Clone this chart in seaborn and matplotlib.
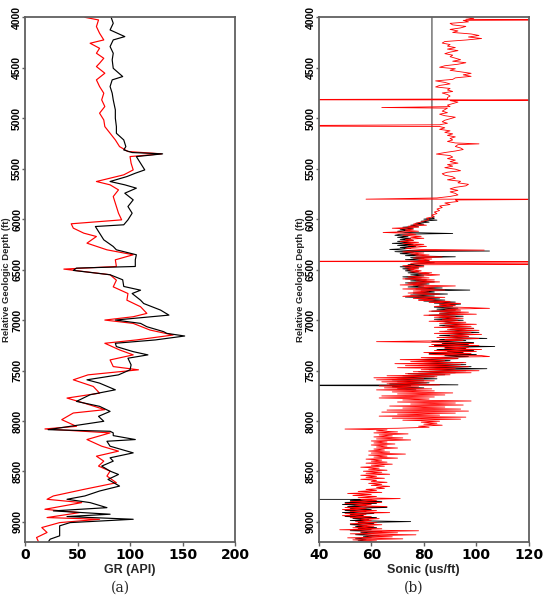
import matplotlib
matplotlib.use('Agg')
import matplotlib.pyplot as plt
import seaborn as sns
import pandas as pd

# GR log (API) vs relative depth (ft)
gr_black_depth = [4000, 4059, 4125, 4191, 4224, 4290, 4356, 4422, 4505, 4587, 4620, 4686, 4752, 4818,
                  4917, 5000, 5083, 5149, 5215, 5281, 5314, 5340, 5353, 5380, 5446, 5512, 5545, 5578,
                  5627, 5660, 5693, 5743, 5809, 5875, 5941, 6007, 6056, 6073, 6139, 6205, 6271, 6304,
                  6353, 6403, 6469, 6485, 6508, 6551, 6601, 6667, 6704, 6737, 6803, 6836, 6901, 6951,
                  7000, 7033, 7066, 7115, 7132, 7158, 7197, 7230, 7263, 7313, 7345, 7378, 7444, 7493,
                  7543, 7592, 7625, 7691, 7740, 7806, 7855, 7905, 7954, 8003, 8053, 8086, 8102, 8118,
                  8145, 8184, 8201, 8250, 8316, 8365, 8398, 8447, 8497, 8530, 8579, 8645, 8694, 8743,
                  8776, 8809, 8859, 8891, 8924, 8947, 8974, 9007, 9039, 9105, 9138, 9171, 9200]
gr_black = [82, 84, 81, 95, 84, 81, 84, 83, 84, 93, 83, 81, 83, 84,
            86, 86, 87, 87, 94, 96, 94, 102, 131, 106, 110, 114, 105, 97,
            81, 95, 106, 95, 103, 98, 102, 98, 94, 67, 71, 75, 84, 87,
            106, 105, 105, 49, 46, 81, 93, 94, 110, 102, 110, 113, 129, 137,
            86, 110, 116, 132, 135, 152, 124, 86, 87, 103, 117, 98, 101, 100,
            89, 59, 71, 86, 62, 49, 71, 81, 70, 75, 43, 22, 81, 84,
            84, 105, 78, 81, 103, 81, 84, 73, 81, 89, 79, 90, 71, 57,
            40, 62, 78, 27, 81, 40, 103, 43, 33, 33, 33, 24, 22]

gr_red_depth = [4000, 4026, 4092, 4158, 4224, 4257, 4307, 4356, 4406, 4455, 4488, 4554, 4620, 4686,
                4752, 4818, 4884, 4950, 5017, 5083, 5149, 5215, 5281, 5330, 5353, 5380, 5446, 5512,
                5561, 5627, 5660, 5710, 5776, 5842, 5941, 6007, 6046, 6089, 6139, 6172, 6238, 6304,
                6353, 6403, 6469, 6495, 6551, 6605, 6671, 6737, 6803, 6868, 6934, 6967, 7000, 7033,
                7099, 7148, 7197, 7230, 7296, 7345, 7395, 7461, 7493, 7543, 7592, 7658, 7724, 7773,
                7822, 7888, 7921, 7987, 8053, 8079, 8118, 8184, 8250, 8299, 8349, 8398, 8447, 8497,
                8546, 8612, 8678, 8743, 8776, 8809, 8875, 8908, 8957, 8974, 9007, 9056, 9105, 9155,
                9200]
gr_red = [57, 70, 68, 71, 75, 62, 71, 68, 75, 71, 68, 76, 68, 71,
          75, 73, 76, 71, 75, 76, 81, 86, 90, 98, 130, 100, 101, 103,
          94, 68, 81, 89, 84, 86, 89, 92, 44, 46, 56, 68, 59, 78,
          103, 86, 87, 37, 81, 87, 84, 98, 97, 110, 116, 103, 76, 103,
          119, 141, 106, 76, 90, 103, 81, 84, 108, 60, 46, 65, 71, 40,
          56, 76, 46, 35, 49, 19, 81, 59, 73, 89, 68, 75, 70, 81,
          78, 87, 56, 27, 21, 54, 19, 52, 21, 71, 33, 16, 21, 11,
          13]

# Sonic log (us/ft); the black log has a gap, so it is split in two segments
sonic_black_depth = [
    4000, 5985, 5990, 6000, 6010, 6020, 6030, 6040, 6050, 6060, 6070, 6080, 6090, 6100, 6110, 6120,
    6132, 6142, 6150, 6160, 6170, 6180, 6190, 6200, 6210, 6220, 6230, 6240, 6250, 6260, 6270, 6280,
    6290, 6300, 6310, 6316, 6322, 6332, 6342, 6352, 6362, 6373, 6382, 6392, 6402, 6412, 6422, 6432,
    6442, 6452, 6462, 6472, 6482, 6492, 6502, 6512, 6522, 6532, 6542, 6552, 6562, 6572, 6582, 6592,
    6602, 6612, 6622, 6632, 6642, 6652, 6662, 6672, 6682, 6692, 6703, 6712, 6722, 6732, 6742, 6752,
    6762, 6772, 6782, 6792, 6802, 6812, 6822, 6832, 6842, 6852, 6862, 6872, 6882, 6892, 6902, 6912,
    6922, 6932, 6942, 6952, 6962, 6972, 6982, 6992, 7002, 7012, 7022, 7032, 7042, 7052, 7062, 7072,
    7082, 7092, 7102, 7112, 7122, 7132, 7142, 7152, 7162, 7172, 7182, 7192, 7202, 7212, 7222, 7232,
    7242, 7252, 7262, 7272, 7282, 7292, 7302, 7312, 7322, 7332, 7342, 7352, 7362, 7372, 7382, 7392,
    7402, 7412, 7422, 7432, 7442, 7452, 7462, 7472, 7482, 7492, 7502, 7512, 7522, 7532, 7542, 7552,
    7562, 7572, 7582, 7592, 7602, 7612, 7622, 7632, 7642, 7647, 7652, 7662, 7672, 7682, 7692,
    8776, 8777, 8787, 8797, 8807, 8817, 8827, 8837, 8847, 8857, 8867, 8877, 8887, 8897, 8907, 8917,
    8927, 8937, 8947, 8957, 8967, 8977, 8987, 8997, 9007, 9017, 9027, 9037, 9047, 9057, 9067, 9077,
    9087, 9097, 9107, 9117, 9127, 9137, 9147, 9157, 9167, 9177, 9187, 9197]
sonic_black = [
    83.1, 83.1, 84, 80, 85, 79, 82, 77, 80, 75, 78, 72, 76, 71, 74, 70,
    73, 91, 71, 69, 74, 70, 75, 71, 76, 70, 75, 68, 76, 70, 77, 71,
    75, 67, 74, 105, 69, 76, 71, 78, 73, 92, 75, 80, 73, 82, 76, 84,
    78, 74, 80, 71, 78, 72, 76, 73, 78, 74, 82, 75, 80, 72, 79, 73,
    81, 75, 84, 73, 82, 76, 80, 74, 87, 77, 97.5, 79, 84, 76, 89, 75,
    84, 73, 86, 78, 88, 80, 92, 84, 94, 86, 91, 84, 93, 85, 92, 83,
    94, 86, 93, 82, 95, 86, 92, 84, 95, 85, 92, 88, 96, 86, 93, 87,
    99, 90, 96, 88, 101, 89, 99, 86, 97, 88, 104, 86, 96, 83, 99, 87,
    97, 84, 107, 88, 96, 85, 99, 89, 95, 82, 100, 88, 97, 84, 93, 77,
    90, 80, 95, 78, 96, 82, 98, 80, 104, 82, 96, 78, 92, 74, 88, 72,
    84, 70, 85, 68, 80, 70, 82, 67, 93, 0, 75, 68, 80, 70, 77,
    0, 60, 52, 64, 50, 62, 49, 58, 51, 66, 52, 60, 50, 58, 49, 61,
    52, 57, 50, 62, 53, 59, 52, 75, 55, 61, 52, 58, 54, 62, 55, 60,
    52, 64, 56, 60, 54, 63, 57, 60, 54, 58, 55, 60]
sonic_black_seg = [1] * 175 + [2] * 44

sonic_red_depth = [
    4000, 4010, 4020, 4026, 4030, 4045, 4060, 4075, 4090, 4105, 4120, 4135, 4150, 4165, 4180, 4195,
    4210, 4225, 4240, 4255, 4270, 4285, 4300, 4315, 4330, 4345, 4360, 4375, 4390, 4405, 4420, 4435,
    4450, 4465, 4480, 4495, 4510, 4525, 4540, 4555, 4570, 4585, 4600, 4615, 4630, 4645, 4660, 4675,
    4690, 4705, 4720, 4735, 4750, 4765, 4780, 4795, 4810, 4818, 4818, 4825, 4840, 4855, 4870, 4885,
    4894, 4900, 4915, 4930, 4945, 4960, 4975, 4990, 5005, 5020, 5035, 5050, 5065, 5076, 5082, 5095,
    5110, 5125, 5140, 5155, 5170, 5185, 5200, 5215, 5230, 5245, 5254, 5262, 5280, 5295, 5310, 5325,
    5340, 5355, 5370, 5385, 5400, 5415, 5430, 5445, 5460, 5475, 5490, 5505, 5520, 5535, 5550, 5565,
    5580, 5595, 5610, 5625, 5640, 5655, 5670, 5685, 5700, 5715, 5730, 5745, 5760, 5775, 5790, 5802,
    5802, 5810, 5825, 5840, 5855, 5870, 5885, 5900, 5915, 5930, 5945, 5960, 5975, 5990, 6005, 6020,
    6035, 6050, 6060, 6070, 6080, 6090, 6100, 6110, 6120, 6132, 6140, 6150, 6160, 6170, 6180, 6190,
    6200, 6210, 6220, 6230, 6240, 6250, 6260, 6270, 6280, 6290, 6300, 6307, 6312, 6325, 6335, 6345,
    6355, 6365, 6375, 6385, 6395, 6405, 6415, 6420, 6422, 6428, 6438, 6446, 6452, 6462, 6472, 6482,
    6492, 6502, 6512, 6522, 6532, 6542, 6552, 6562, 6572, 6582, 6592, 6602, 6612, 6622, 6632, 6642,
    6652, 6662, 6672, 6682, 6692, 6702, 6712, 6722, 6732, 6742, 6752, 6765, 6775, 6785, 6795, 6805,
    6815, 6825, 6835, 6845, 6855, 6865, 6875, 6884, 6892, 6902, 6912, 6922, 6932, 6942, 6952, 6962,
    6972, 6982, 6992, 7002, 7012, 7022, 7032, 7042, 7052, 7062, 7072, 7082, 7092, 7102, 7112, 7122,
    7132, 7142, 7152, 7162, 7172, 7182, 7192, 7202, 7214, 7222, 7232, 7242, 7252, 7262, 7272, 7282,
    7292, 7302, 7312, 7322, 7332, 7342, 7352, 7362, 7372, 7382, 7392, 7402, 7412, 7422, 7432, 7442,
    7452, 7462, 7472, 7482, 7492, 7502, 7512, 7522, 7532, 7542, 7552, 7562, 7572, 7582, 7592, 7602,
    7612, 7622, 7632, 7642, 7652, 7662, 7672, 7682, 7692, 7702, 7712, 7722, 7732, 7742, 7752, 7762,
    7772, 7782, 7792, 7802, 7812, 7822, 7832, 7842, 7852, 7862, 7872, 7882, 7892, 7902, 7912, 7922,
    7932, 7942, 7952, 7962, 7972, 7982, 7992, 8002, 8012, 8022, 8032, 8042, 8052, 8062, 8072, 8080,
    8088, 8098, 8108, 8118, 8128, 8138, 8148, 8158, 8168, 8178, 8188, 8198, 8208, 8218, 8228, 8238,
    8248, 8258, 8268, 8278, 8288, 8298, 8308, 8318, 8328, 8338, 8348, 8358, 8368, 8378, 8388, 8398,
    8408, 8418, 8428, 8438, 8448, 8458, 8468, 8478, 8488, 8498, 8508, 8518, 8528, 8538, 8548, 8558,
    8568, 8578, 8588, 8598, 8608, 8618, 8628, 8638, 8648, 8658, 8668, 8678, 8688, 8698, 8708, 8718,
    8728, 8738, 8748, 8760, 8769, 8778, 8788, 8798, 8808, 8818, 8828, 8838, 8848, 8858, 8868, 8878,
    8888, 8898, 8908, 8918, 8928, 8938, 8948, 8958, 8968, 8978, 8988, 8998, 9008, 9018, 9028, 9038,
    9048, 9058, 9068, 9078, 9088, 9098, 9108, 9118, 9128, 9138, 9148, 9158, 9168, 9178, 9188, 9200]
sonic_red = [
    96, 99, 96, 150, 95, 97, 90, 91, 96, 94, 90, 93, 91, 98, 101, 97,
    102, 96, 88, 87, 90, 89, 92, 89, 93, 90, 88, 91, 90, 92, 94, 91,
    96, 93, 88, 86, 92, 90, 94, 98, 95, 98, 92, 91, 84.5, 88, 90, 86,
    84.5, 90, 89, 91, 87, 89, 90, 89, 89, -20, 160, 90, 93, 91, 89, 90,
    64, 89, 88, 87, 89, 86, 88, 92, 90, 88, 87, 89, 86, 0, 86, 88,
    86, 90, 88, 91, 89, 92, 90, 91, 89, 92, 101, 93, 92, 94, 95, 92,
    88, 84.8, 90, 91, 89, 92, 90, 93, 89, 91, 88, 92, 94, 89, 87, 88,
    91, 92, 89, 94, 93, 97, 96, 92, 90, 93, 90, 92, 93, 90, 85, 58,
    150, 92, 93, 88, 90, 86, 87, 85, 86, 84, 85, 83, 84, 81, 82, 80,
    78, 76, 81, 74, 78, 68, 76, 73, 78, 64.5, 74, 77, 72, 79, 75, 80,
    73, 76, 71, 78, 72, 80, 74, 81, 76, 73, 79, 103, 77, 72, 80, 75,
    82, 77, 87, 76, 83, 78, 82, -20, 150, 80, 75, 150, 78, 72, 80, 73,
    78, 74, 79, 75, 83, 78, 86, 80, 74, 82, 72, 84, 77, 86, 74, 81,
    71, 92, 78, 84, 72, 88, 76, 82, 74, 86, 78, 72, 88, 76, 84, 78,
    90, 82, 94, 86, 92, 84, 96, 105, 88, 94, 82, 97, 86, 100, 80, 92,
    84, 95, 87, 93, 82, 96, 86, 100, 88, 98, 84, 99, 89, 101, 86, 98,
    84, 102, 90, 97, 85, 101, 88, 95, 62, 90, 99, 83, 101, 82, 97, 88,
    102, 84, 100, 80, 98, 82, 102, 105, 79, 93, 71, 88, 75, 96, 69, 94,
    73, 97, 70, 92, 79, 101, 76, 98, 73, 90, 66, 85, 61, 80, 62, 84,
    64, 81, 66, 86, 63, 78, 65, 83, 62, 84, 68, 91, 70, 88, 64, 84,
    63, 82, 72, 98, 70, 92, 75, 95, 67, 88, 72, 94, 66, 97, 64, 92,
    70, 86, 63, 96, 68, 94, 72, 86, 79, 85, 80, 87, 78, 82, 70, 50,
    66, 62, 70, 61, 74, 63, 68, 61, 72, 62, 75, 60, 66, 61, 69, 60,
    66, 62, 70, 61, 65, 59, 67, 60, 73, 59, 66, 61, 70, 58, 64, 60,
    66, 58, 68, 60, 65, 56, 63, 59, 66, 57, 64, 58, 67, 56, 62, 58,
    65, 56, 62, 60, 66, 59, 64, 60, 67, 62, 65, 58, 62, 55, 64, 51,
    60, 53, 62, 55, 71, 56, 62, 52, 64, 50, 60, 54, 66, 50, 58, 49,
    62, 52, 67, 50, 58, 49, 60, 52, 63, 56, 60, 54, 62, 52, 64, 55,
    61, 53, 64, 48, 78, 56, 70, 52, 77, 58, 68, 51, 72, 53, 62, 57]

gr_b = pd.DataFrame({'depth': gr_black_depth, 'value': gr_black})
gr_r = pd.DataFrame({'depth': gr_red_depth, 'value': gr_red})
son_b = pd.DataFrame({'depth': sonic_black_depth, 'value': sonic_black, 'seg': sonic_black_seg})
son_r = pd.DataFrame({'depth': sonic_red_depth, 'value': sonic_red})

sns.set_style('ticks')
plt.rcParams['font.family'] = ['Liberation Sans', 'DejaVu Sans']
plt.rcParams['axes.edgecolor'] = '#606060'
plt.rcParams['axes.linewidth'] = 1.3

fig = plt.figure(figsize=(5.43, 5.97), dpi=100)
ax1 = fig.add_axes([0.046, 0.092, 0.387, 0.879])
ax2 = fig.add_axes([0.587, 0.092, 0.387, 0.879])

sns.lineplot(data=gr_r, x='value', y='depth', sort=False, estimator=None,
             color='#ff0000', linewidth=0.85, ax=ax1)
sns.lineplot(data=gr_b, x='value', y='depth', sort=False, estimator=None,
             color='black', linewidth=0.85, ax=ax1)

sns.lineplot(data=son_b, x='value', y='depth', units='seg', sort=False, estimator=None,
             color='black', linewidth=0.6, ax=ax2)
sns.lineplot(data=son_r, x='value', y='depth', sort=False, estimator=None,
             color='#ff0000', linewidth=0.6, ax=ax2)

for ax, xlim, xticks, xlabel, cap, capx in [
        (ax1, (0, 200), [0, 50, 100, 150, 200], 'GR (API)', '(a)', 0.221),
        (ax2, (40, 120), [40, 60, 80, 100, 120], 'Sonic (us/ft)', '(b)', 0.762)]:
    ax.set_xlim(*xlim)
    ax.set_ylim(9200, 4000)
    ax.set_xticks(xticks)
    ax.set_yticks([4000, 4500, 5000, 5500, 6000, 6500, 7000, 7500, 8000, 8500, 9000])
    ax.tick_params(axis='x', length=3, width=1, pad=1.5)
    ax.tick_params(axis='y', length=2, width=1, pad=0, labelrotation=90)
    for lab in ax.get_xticklabels():
        lab.set_fontweight('bold')
        lab.set_fontsize(10)
        lab.set_family('DejaVu Sans')
    for lab in ax.get_yticklabels():
        lab.set_fontweight('bold')
        lab.set_fontsize(7.5)
        lab.set_va('center')
    ax.tick_params(colors='#606060', labelcolor='black')
    ax.set_xlabel(xlabel, fontsize=9, fontweight='bold', labelpad=1)
    ax.set_ylabel('Relative Geologic Depth (ft)', fontsize=6.8, fontweight='bold')
    ax.yaxis.set_label_coords(-0.066, 0.5)
    fig.text(capx, 0.028, cap, ha='center', va='top', fontsize=10, family='DejaVu Serif')

fig.savefig('out.png', dpi=100)
